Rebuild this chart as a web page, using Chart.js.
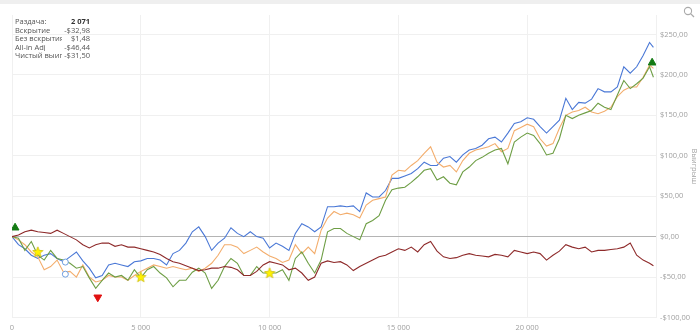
<!DOCTYPE html>
<html>
<head>
<meta charset="utf-8">
<script src="https://cdn.jsdelivr.net/npm/chart.js@4/dist/chart.umd.min.js"></script>
<style>
  html, body { margin: 0; padding: 0; background: #fff; }
  #wrap { position: relative; width: 700px; height: 336px; overflow: hidden; }
  #topbar { position: absolute; left: 0; top: 0; width: 700px; height: 4px; background: #efefef; }
  #info { position: absolute; left: 15px; top: 17px; width: 75px; font-family: "Open Sans", sans-serif; font-size: 7.5px; line-height: 8.6px; color: #555; }
  #info .row { display: flex; justify-content: space-between; white-space: nowrap; }
  #info .lbl { display: block; overflow: hidden; width: 47px; flex: none; }
  #info .val { display: block; text-align: right; margin-left: 2px; }
  #info b { color: #333; font-weight: 700; }
  #zoom { position: absolute; left: 683px; top: 6px; }
</style>
</head>
<body>
<div id="wrap">
  <canvas id="myChart" width="700" height="336"></canvas>
  <div id="topbar"></div>
  <div id="info"></div>
  <svg id="zoom" width="12" height="12" viewBox="0 0 12 12">
    <circle cx="5" cy="5" r="3.6" fill="none" stroke="#aaa" stroke-width="1.1"/>
    <line x1="7.6" y1="7.6" x2="11" y2="11" stroke="#aaa" stroke-width="1.3"/>
  </svg>
</div>
<script>
// sample positions along the hands axis
const hands = Array.from({ length: 100 }, (_, i) => i * 250).concat([24900]);

// Вскрытие (showdown)
const showdown = [0, -10, -15, -23, -27, -23, -21, -27, -31, -25, -19, -30, -39, -51, -48, -35, -33, -35, -37, -31,
  -30, -27, -27, -29, -35, -21, -17, -8, 6, 12, 0, -17, -8, -2, 11, 4, 0, 6, 0, -2,
  -14, -8, -12, -17, 4, 16, 12, 6, 12, 37, 37, 38, 37, 38, 31, 54, 49, 49, 57, 72,
  72, 75, 78, 84, 92, 88, 88, 97, 99, 92, 101, 107, 109, 113, 121, 123, 117, 128, 140, 142,
  147, 145, 136, 128, 136, 144, 171, 157, 166, 165, 170, 183, 179, 179, 185, 210, 202, 210, 224, 240, 234];

// All-in Adj
const allinAdj = [0, -4, -10, -19, -25, -41, -37, -29, -44, -43, -50, -35, -50, -56, -54, -48, -50, -50, -54, -48,
  -43, -39, -35, -37, -39, -37, -39, -41, -39, -43, -39, -33, -23, -10, -10, -13, -21, -17, -13, -19,
  -24, -27, -32, -29, -10, -21, -13, -21, 8, 23, 31, 27, 29, 27, 23, 39, 45, 47, 49, 76,
  82, 81, 88, 94, 103, 111, 92, 86, 88, 80, 94, 103, 107, 109, 111, 115, 105, 109, 131, 135,
  139, 136, 121, 112, 115, 134, 150, 154, 156, 160, 154, 152, 155, 160, 173, 181, 185, 185, 197, 212, 208];

// Чистый выигрыш (net won)
const netWon = [0, -2, -17, -6, -23, -29, -17, -27, -29, -33, -39, -37, -51, -64, -54, -45, -50, -48, -54, -41,
  -51, -41, -37, -45, -51, -62, -54, -54, -44, -39, -45, -64, -54, -37, -27, -33, -48, -48, -37, -45,
  -45, -45, -41, -54, -27, -19, -33, -45, -29, 6, 10, 10, 4, 0, -4, 16, 20, 26, 45, 58,
  60, 61, 67, 74, 82, 84, 70, 74, 66, 64, 80, 86, 94, 98, 103, 107, 109, 90, 117, 123,
  128, 125, 115, 101, 103, 121, 150, 146, 150, 153, 156, 165, 160, 157, 175, 193, 183, 189, 196, 210, 197];

// Без вскрытия (non-showdown)
const nonShowdown = [0, 2, 6, 8, 6, 5, 4, 8, 4, 0, -4, -10, -14, -10, -8, -8, -12, -10, -13, -13,
  -15, -17, -19, -22, -27, -31, -33, -36, -39, -42, -41, -39, -39, -37, -38, -41, -48, -48, -43, -35,
  -31, -33, -35, -41, -39, -45, -54, -50, -33, -30, -32, -31, -35, -42, -37, -33, -29, -25, -23, -19,
  -15, -17, -13, -19, -10, -6, -18, -25, -27, -26, -23, -21, -23, -24, -25, -22, -23, -25, -17, -19,
  -21, -19, -21, -29, -23, -18, -10, -13, -15, -13, -19, -17, -17, -16, -15, -13, -8, -23, -29, -33, -36];

// info box (values at hovered hand)
const infoLabels = ["Раздача:", "Вскрытие", "Без вскрытия", "All-in Adj", "Чистый выигрыш"];
const infoValues = ["2 071", "-$32,98", "$1,48", "-$46,44", "-$31,50"];
const hoverHand = 2071;
const hoverValues = [-31.5, -46.44];

// markers
const starPoints = [{ x: 1000, y: -19 }, { x: 5000, y: -50 }, { x: 10000, y: -45 }];
const maxPoints = [{ x: 120, y: 11 }, { x: 24850, y: 215 }];
const minPoints = [{ x: 3330, y: -75 }];

const yTicks = [-100, -50, 0, 50, 100, 150, 200, 250];

document.getElementById("info").innerHTML = infoLabels
  .map((l, i) => `<div class="row"><span class="lbl">${l}</span><span class="val">${i === 0 ? "<b>" + infoValues[i] + "</b>" : infoValues[i]}</span></div>`)
  .join("");

function toXY(values) {
  return values.map((v, i) => ({ x: hands[i], y: v }));
}

// filled yellow star for milestone markers
function makeStar() {
  const c = document.createElement("canvas");
  c.width = 12; c.height = 12;
  const g = c.getContext("2d");
  g.beginPath();
  for (let k = 0; k < 10; k++) {
    const r = k % 2 === 0 ? 5.5 : 2.4;
    const a = -Math.PI / 2 + k * Math.PI / 5;
    g.lineTo(6 + r * Math.cos(a), 6.3 + r * Math.sin(a));
  }
  g.closePath();
  g.fillStyle = "#fff200";
  g.fill();
  g.strokeStyle = "#c9b800";
  g.lineWidth = 0.7;
  g.stroke();
  return c;
}

function money(v) {
  const s = Math.abs(v).toFixed(2).replace(".", ",");
  return (v < 0 ? "-$" : "$") + s;
}

const lineDefaults = { pointRadius: 0, borderWidth: 1.1, tension: 0, fill: false };

const config = {
  type: "line",
  data: {
    datasets: [
      { data: hoverValues.map((v) => ({ x: hoverHand, y: v })), showLine: false, pointRadius: 3,
        pointBorderColor: "#6f9fe0", pointBackgroundColor: "#fff", pointBorderWidth: 1 },
      { data: starPoints, showLine: false, pointRadius: 6, pointStyle: makeStar() },
      { data: maxPoints, showLine: false, pointRadius: 4.5, pointStyle: "triangle",
        pointBackgroundColor: "#147a14", pointBorderColor: "#147a14" },
      { data: minPoints, showLine: false, pointRadius: 4.5, pointStyle: "triangle", pointRotation: 180,
        pointBackgroundColor: "#e01010", pointBorderColor: "#e01010" },
      { ...lineDefaults, label: "Без вскрытия", data: toXY(nonShowdown), borderColor: "#8e2a2a" },
      { ...lineDefaults, label: "Чистый выигрыш", data: toXY(netWon), borderColor: "#6e9e45" },
      { ...lineDefaults, label: "All-in Adj", data: toXY(allinAdj), borderColor: "#f3ad6c" },
      { ...lineDefaults, label: "Вскрытие", data: toXY(showdown), borderColor: "#4a78d6" },
    ],
  },
  options: {
    responsive: false,
    animation: false,
    layout: { padding: { left: 12, top: 15, right: 0, bottom: 0 } },
    plugins: { legend: { display: false }, tooltip: { enabled: false } },
    scales: {
      x: {
        type: "linear",
        min: 0,
        max: 25000,
        border: { display: false },
        grid: { color: "#f0f0f0", drawTicks: false },
        ticks: {
          stepSize: 5000,
          padding: 6,
          color: "#a0a0a0",
          font: { family: "Open Sans", size: 7.5 },
          maxRotation: 0,
          callback: (v) => (v >= 25000 ? "" : v === 0 ? "0" : String(v).replace(/\B(?=(\d{3})+(?!\d))/g, " ")),
        },
        afterFit: (axis) => { axis.height = 18.5; },
      },
      y: {
        position: "right",
        min: -100,
        max: 274,
        border: { display: false },
        grid: {
          drawTicks: false,
          color: (ctx) => (ctx.tick && ctx.tick.value === 0 ? "#b4b4b4" : "#f0f0f0"),
        },
        afterBuildTicks: (axis) => { axis.ticks = yTicks.map((v) => ({ value: v })); },
        ticks: {
          padding: 4,
          color: "#a0a0a0",
          font: { family: "Open Sans", size: 7.5 },
          callback: (v) => money(v),
        },
        title: {
          display: true,
          text: "Выигрыш",
          color: "#a0a0a0",
          padding: 1,
          font: { family: "Open Sans", size: 7.5 },
        },
        afterFit: (axis) => { axis.width = 44; },
      },
    },
  },
};

new Chart(document.getElementById("myChart"), config);
</script>
</body>
</html>
